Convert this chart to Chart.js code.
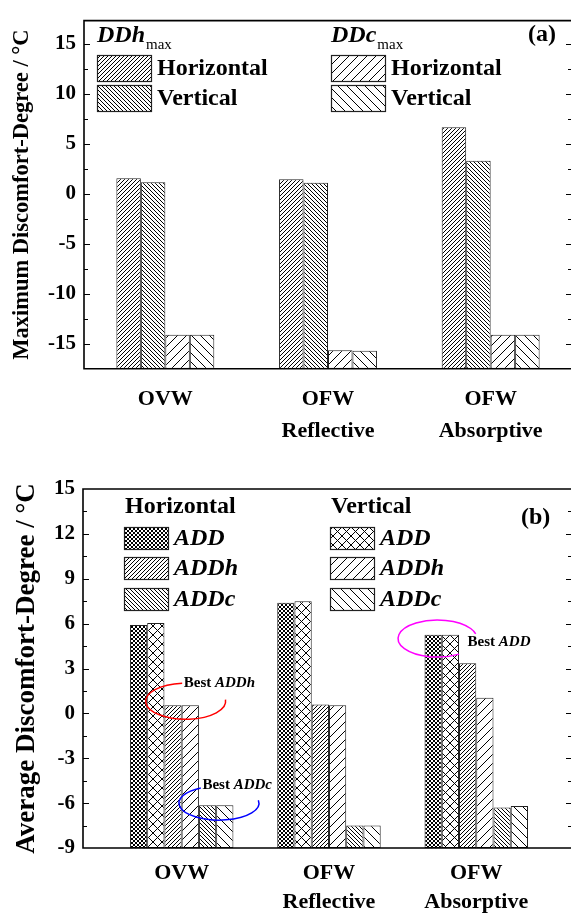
<!DOCTYPE html>
<html>
<head>
<meta charset="utf-8">
<script src="https://cdn.jsdelivr.net/npm/chart.js@4.4.1/dist/chart.umd.min.js"></script>
<style>
  html, body { margin: 0; padding: 0; background: #fff; overflow: hidden; width: 571px; height: 913px; }
  canvas { display: block; }
</style>
</head>
<body>
<canvas id="chartA" width="576" height="455"></canvas>
<canvas id="chartB" width="576" height="458"></canvas>
<script>
const SERIF = '"Liberation Serif", "Times New Roman", serif';

// (a) maximum discomfort degree
const categoriesA = ['OVW', ['OFW', 'Reflective'], ['OFW', 'Absorptive']];
const ddhHorizontal = [1.55, 1.45, 6.65];
const ddhVertical = [1.15, 1.10, 3.30];
const ddcHorizontal = [-14.1, -15.65, -14.1];
const ddcVertical = [-14.1, -15.7, -14.1];
const legendTextA = ['Horizontal', 'Vertical', 'Horizontal', 'Vertical'];
const yMinA = -17.5, yMaxA = 17.3, yStepA = 5;

// (b) average discomfort degree
const categoriesB = ['OVW', ['OFW', 'Reflective'], ['OFW', 'Absorptive']];
const categoryPosB = [1, 2, 3];
const addHorizontal = [5.9, 7.4, 5.25];
const addVertical = [6.05, 7.5, 5.25];
const addhHorizontal = [0.55, 0.6, 3.35];
const addhVertical = [0.55, 0.55, 1.05];
const addcHorizontal = [-6.15, -7.5, -6.3];
const addcVertical = [-6.15, -7.5, -6.2];
const legendTextB = ['ADD', 'ADD', 'ADDh', 'ADDh', 'ADDc', 'ADDc'];
const yMinB = -9, yMaxB = 15, yStepB = 3;

// hatch fills
function hatch(ctx, step, dirs) {
  const c = document.createElement('canvas');
  c.width = c.height = step;
  const g = c.getContext('2d');
  g.fillStyle = '#fff';
  g.fillRect(0, 0, step, step);
  g.strokeStyle = '#000';
  g.lineWidth = 1;
  g.beginPath();
  if (dirs.includes('/')) {
    g.moveTo(0, step); g.lineTo(step, 0);
    g.moveTo(-1, 1); g.lineTo(1, -1);
    g.moveTo(step - 1, step + 1); g.lineTo(step + 1, step - 1);
  }
  if (dirs.includes('\\')) {
    g.moveTo(0, 0); g.lineTo(step, step);
    g.moveTo(-1, step - 1); g.lineTo(1, step + 1);
    g.moveTo(step - 1, -1); g.lineTo(step + 1, 1);
  }
  g.stroke();
  return ctx.createPattern(c, 'repeat');
}

// frame + inward ticks on left and right axes
const framePlugin = {
  id: 'frame',
  afterDatasetsDraw(chart) {
    const { ctx, chartArea: a, scales: { y } } = chart;
    const step = y.options.ticks.stepSize;
    ctx.save();
    ctx.strokeStyle = '#000';
    ctx.lineWidth = 1.6;
    ctx.beginPath();
    ctx.moveTo(a.left, a.bottom); ctx.lineTo(a.left, a.top);
    ctx.lineTo(a.right, a.top); ctx.lineTo(a.right, a.bottom);
    ctx.closePath();
    ctx.stroke();
    ctx.lineWidth = 1.2;
    ctx.beginPath();
    y.ticks.forEach(t => {
      [[t.value, 6], [t.value - step / 2, 4]].forEach(([v, len]) => {
        if (v <= y.min || v >= y.max) return;
        const py = Math.round(y.getPixelForValue(v)) + 0.5;
        ctx.moveTo(a.left, py); ctx.lineTo(a.left + len, py);
        ctx.moveTo(a.right, py); ctx.lineTo(a.right - len, py);
      });
    });
    ctx.stroke();
    ctx.restore();
  }
};

// hand placed legend like the original figure
const boxLegendPlugin = {
  id: 'boxLegend',
  afterDraw(chart, args, opts) {
    const ctx = chart.ctx;
    ctx.save();
    ctx.fillStyle = '#000';
    ctx.textBaseline = 'alphabetic';
    opts.headers.forEach(h => {
      ctx.font = (h.italic ? 'italic ' : '') + 'bold ' + opts.size + 'px ' + SERIF;
      ctx.fillText(h.text, h.x, h.y);
      if (h.sub) {
        const w = ctx.measureText(h.text).width;
        ctx.font = '15px ' + SERIF;
        ctx.fillText(h.sub, h.x + w + 1, h.y + 7);
      }
    });
    ctx.font = 'bold ' + opts.size + 'px ' + SERIF;
    ctx.textBaseline = 'middle';
    ctx.fillText(opts.tag.text, opts.tag.x, opts.tag.y);
    ctx.font = (opts.italic ? 'italic ' : '') + 'bold ' + opts.size + 'px ' + SERIF;
    chart.data.datasets.forEach((ds, i) => {
      const [x, y] = opts.slots[i];
      ctx.fillStyle = ds.backgroundColor;
      ctx.fillRect(x, y, opts.w, opts.h);
      ctx.strokeStyle = '#222';
      ctx.lineWidth = 1.2;
      ctx.strokeRect(x + 0.5, y + 0.5, opts.w, opts.h);
      ctx.fillStyle = '#000';
      ctx.fillText(opts.texts[i], x + opts.w + 6, y + opts.h / 2 + 1);
    });
    ctx.restore();
  }
};

// "Best ..." circled notes
const notesPlugin = {
  id: 'notes',
  afterDatasetsDraw(chart, args, opts) {
    const { ctx, scales: { x, y } } = chart;
    ctx.save();
    (opts.items || []).forEach(n => {
      ctx.strokeStyle = n.color;
      ctx.lineWidth = 1.5;
      ctx.beginPath();
      ctx.ellipse(x.getPixelForValue(n.x), y.getPixelForValue(n.y), n.rx, n.ry, 0,
        n.from * Math.PI / 180, n.to * Math.PI / 180);
      ctx.stroke();
      const tx = x.getPixelForValue(n.tx), ty = y.getPixelForValue(n.ty);
      ctx.fillStyle = '#000';
      ctx.textBaseline = 'middle';
      ctx.font = 'bold 15px ' + SERIF;
      ctx.fillText('Best ', tx, ty);
      const w = ctx.measureText('Best ').width;
      ctx.font = 'italic bold 15px ' + SERIF;
      ctx.fillText(n.label, tx + w, ty);
    });
    ctx.restore();
  }
};

Chart.register(framePlugin, boxLegendPlugin, notesPlugin);

const tickFont = { family: SERIF, size: 21, weight: 'bold' };

// ---------- chart (a) ----------
const ctxA = document.getElementById('chartA').getContext('2d');
const fillsA = [hatch(ctxA, 4, '/'), hatch(ctxA, 4, '\\'), hatch(ctxA, 9, '/'), hatch(ctxA, 9, '\\')];
const seriesA = [ddhHorizontal, ddhVertical, ddcHorizontal, ddcVertical];

new Chart(ctxA, {
  type: 'bar',
  data: {
    labels: categoriesA,
    datasets: seriesA.map((vals, i) => ({
      label: legendTextA[i],
      data: vals,
      base: yMinA,
      backgroundColor: fillsA[i],
      borderColor: '#222',
      borderWidth: 1,
      borderSkipped: false,
      barPercentage: 1,
      categoryPercentage: 0.602
    }))
  },
  options: {
    responsive: false,
    animation: false,
    layout: { padding: { top: 10, right: 4, left: 0, bottom: 0 } },
    plugins: {
      legend: { display: false },
      tooltip: { enabled: false },
      boxLegend: {
        size: 24, italic: false, w: 54, h: 26,
        headers: [
          { text: 'DDh', sub: 'max', italic: true, x: 97, y: 42 },
          { text: 'DDc', sub: 'max', italic: true, x: 331, y: 42 }
        ],
        tag: { text: '(a)', x: 528, y: 35 },
        slots: [[97, 55], [97, 85], [331, 55], [331, 85]],
        texts: legendTextA
      }
    },
    scales: {
      x: {
        type: 'category',
        offset: true,
        grid: { display: false, drawTicks: false },
        border: { display: false },
        ticks: { color: '#000', font: { family: SERIF, size: 22, weight: 'bold', lineHeight: 1.45 }, padding: 15, maxRotation: 0, autoSkip: false },
        afterFit(s) { s.height = 86.3; }
      },
      y: {
        min: yMinA, max: yMaxA,
        grid: { display: false, drawTicks: false },
        border: { display: false },
        ticks: { stepSize: yStepA, includeBounds: false, color: '#000', font: tickFont, padding: 8 },
        title: {
          display: true, text: 'Maximum Discomfort-Degree / °C', color: '#000',
          font: { family: SERIF, size: 22.5, weight: 'bold' }, padding: { top: 9, bottom: 0 }
        },
        afterFit(s) { s.width = 84; }
      }
    }
  }
});

// ---------- chart (b) ----------
const ctxB = document.getElementById('chartB').getContext('2d');
const fillsB = [
  hatch(ctxB, 4, '/\\'), hatch(ctxB, 9, '/\\'),
  hatch(ctxB, 4, '/'), hatch(ctxB, 9, '/'),
  hatch(ctxB, 4, '\\'), hatch(ctxB, 9, '\\')
];
const seriesB = [addHorizontal, addVertical, addhHorizontal, addhVertical, addcHorizontal, addcVertical];

new Chart(ctxB, {
  type: 'bar',
  data: {
    datasets: seriesB.map((vals, i) => ({
      label: legendTextB[i],
      data: vals.map((v, k) => ({ x: categoryPosB[k], y: v })),
      base: yMinB,
      backgroundColor: fillsB[i],
      borderColor: '#222',
      borderWidth: 1,
      borderSkipped: false,
      barPercentage: 1,
      categoryPercentage: 0.7025
    }))
  },
  options: {
    responsive: false,
    animation: false,
    layout: { padding: { top: 34, right: 4, left: 0, bottom: 0 } },
    plugins: {
      legend: { display: false },
      tooltip: { enabled: false },
      boxLegend: {
        size: 24, italic: true, w: 44, h: 22,
        headers: [
          { text: 'Horizontal', x: 125, y: 58 },
          { text: 'Vertical', x: 331, y: 58 }
        ],
        tag: { text: '(b)', x: 521, y: 63 },
        slots: [[124, 72], [330, 72], [124, 102], [330, 102], [124, 133], [330, 133]],
        texts: legendTextB
      },
      notes: {
        items: [
          { label: 'ADDh', color: '#ff0000', x: 1.027, y: 0.81, rx: 40, ry: 18, from: -5, to: 265, tx: 1.014, ty: 2.03 },
          { label: 'ADDc', color: '#0000ff', x: 1.253, y: -6.0, rx: 40, ry: 17, from: -10, to: 243, tx: 1.141, ty: -4.77 },
          { label: 'ADD', color: '#ff00ff', x: 2.737, y: 5.0, rx: 39.5, ry: 18.5, from: 57, to: 345, tx: 2.941, ty: 4.77 }
        ]
      }
    },
    scales: {
      x: {
        type: 'linear',
        min: 0.33, max: 3.65,
        offset: false,
        grid: { display: false, drawTicks: false },
        border: { display: false },
        ticks: {
          stepSize: 1, includeBounds: false, autoSkip: false, maxRotation: 0,
          color: '#000', font: { family: SERIF, size: 22, weight: 'bold', lineHeight: 1.3 }, padding: 11,
          callback: v => { const k = categoryPosB.indexOf(v); return k < 0 ? '' : categoriesB[k]; }
        },
        afterFit(s) { s.height = 65; }
      },
      y: {
        min: yMinB, max: yMaxB,
        grid: { display: false, drawTicks: false },
        border: { display: false },
        ticks: { stepSize: yStepB, includeBounds: false, color: '#000', font: tickFont, padding: 8 },
        title: {
          display: true, text: 'Average Discomfort-Degree / °C', color: '#000',
          font: { family: SERIF, size: 27, weight: 'bold' }, padding: { top: 11, bottom: 0 }
        },
        afterFit(s) { s.width = 83; }
      }
    }
  }
});
</script>
</body>
</html>
